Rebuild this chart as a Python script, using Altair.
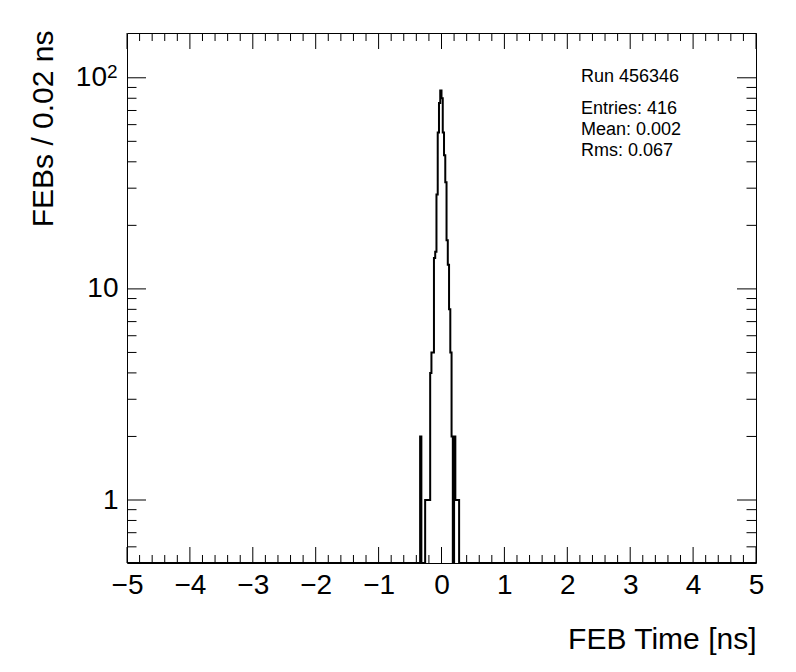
import altair as alt
import pandas as pd

# ---- data ----
first_bin_low = -0.36          # ns, low edge of the first listed bin
bin_width = 0.02               # ns
counts = [0, 2, 0, 0, 0, 1, 1, 1, 1, 4, 5, 5, 14, 15, 28, 55, 76, 87,
          80, 55, 43, 32, 17, 13, 8, 5, 2, 0, 2, 1, 1, 1, 0]
x_range = [-5.0, 5.0]
y_range = [0.503, 163.0]
x_major = [-5, -4, -3, -2, -1, 0, 1, 2, 3, 4, 5]
x_minor = [round(-5 + 0.2 * i, 1) for i in range(51) if i % 5 != 0]
y_major = [1, 10, 100]
y_minor = [0.6, 0.7, 0.8, 0.9, 2, 3, 4, 5, 6, 7, 8, 9,
           20, 30, 40, 50, 60, 70, 80, 90]
stats_lines = ["Run 456346", "Entries: 416", "Mean: 0.002", "Rms: 0.067"]
x_title = "FEB Time [ns]"
y_title = "FEBs / 0.02 ns"
power_value = 100
power_base = "10"
power_exponent = "2"

FONT = "Liberation Sans"
W, H = 629, 530
ZERO_FLOOR = 0.1  # empty bins fall below the log axis

# histogram outline points (step-after at bin low edges)
edges = [first_bin_low + i * bin_width for i in range(len(counts) + 1)]
hx = [x_range[0]] + edges + [x_range[1]]
hy = [0] + counts + [0, 0]
hist = pd.DataFrame({"x": hx, "y": [v if v > 0 else ZERO_FLOOR for v in hy],
                     "o": list(range(len(hx)))})

xscale = alt.Scale(domain=x_range, nice=False, zero=False)
yscale = alt.Scale(type="log", domain=y_range, nice=False, clamp=True)

x_axis = alt.Axis(values=x_major, title=x_title, ticks=False, domain=False,
                  grid=False, labelFontSize=28, labelPadding=30,
                  labelBaseline="alphabetic", labelFlush=False, labelOverlap=False,
                  labelExpr="replace(format(datum.value, 'd'), '-', '\u2212')",
                  titleX=W, titleY=85, titleAlign="right", titleBaseline="alphabetic",
                  titleFontSize=30, titleFontWeight="normal")
y_axis = alt.Axis(values=y_major, title=y_title, ticks=False, domain=False,
                  grid=False, labelFontSize=28, labelPadding=9,
                  labelFlush=False, labelOverlap=False, labelBaseline="middle",
                  labelExpr="datum.value >= 100 ? '' : (datum.value >= 10 ? '10' : '1')",
                  titleX=-75, titleY=-3, titleAngle=270, titleAlign="right",
                  titleBaseline="alphabetic", titleFontSize=30, titleFontWeight="normal")

line = alt.Chart(hist).mark_line(interpolate="step-after", color="black",
                                 strokeWidth=2, clip=True).encode(
    x=alt.X("x:Q", scale=xscale, axis=x_axis),
    y=alt.Y("y:Q", scale=yscale, axis=y_axis),
    order="o:Q",
)


def xticks(vals, y0, y1):
    return alt.Chart(pd.DataFrame({"x": vals})).mark_rule(
        color="black", strokeWidth=1).encode(
        x=alt.X("x:Q", scale=xscale),
        y=alt.value(y0), y2=alt.value(y1))


def yticks(vals, x0, x1):
    return alt.Chart(pd.DataFrame({"y": vals})).mark_rule(
        color="black", strokeWidth=1).encode(
        y=alt.Y("y:Q", scale=yscale),
        x=alt.value(x0), x2=alt.value(x1))


tick_layers = [
    xticks(x_major, H, H - 16), xticks(x_minor, H, H - 8),
    xticks(x_major, 0, 16), xticks(x_minor, 0, 8),
    yticks(y_major, 0, 19), yticks(y_minor, 0, 9.5),
    yticks(y_major, W, W - 19), yticks(y_minor, W, W - 9.5),
]

# the 10^2 label, drawn as base + raised exponent
power_df = pd.DataFrame({"y": [power_value], "b": [power_base], "e": [power_exponent]})
power_base_mark = alt.Chart(power_df).mark_text(
    font=FONT, fontSize=28, align="right", baseline="middle", color="black").encode(
    y=alt.Y("y:Q", scale=yscale), x=alt.value(-20), text="b:N")
power_exp_mark = alt.Chart(power_df).mark_text(
    font=FONT, fontSize=19, align="left", baseline="alphabetic", color="black").encode(
    y=alt.Y("y:Q", scale=yscale), x=alt.value(-20), text="e:N")

text_y = [49, 80.5, 102, 122.5]
text_layers = []
for label, ty in zip(stats_lines, text_y):
    text_layers.append(
        alt.Chart(pd.DataFrame({"t": [label]})).mark_text(
            font=FONT, fontSize=18, align="left", baseline="alphabetic",
            color="black").encode(
            x=alt.value(454), y=alt.value(ty), text="t:N"))

chart = alt.layer(line, *tick_layers, power_base_mark, power_exp_mark,
                  *text_layers).properties(
    width=W, height=H,
    autosize=alt.AutoSizeParams(type="none"),
    padding={"left": 119, "top": 25, "right": 24, "bottom": 95},
    background="white",
).configure_view(stroke="black", strokeWidth=1).configure_axis(
    labelFont=FONT, titleFont=FONT, labelColor="black", titleColor="black")

chart.save("out.html", embed_options={"renderer": "svg", "actions": False})
